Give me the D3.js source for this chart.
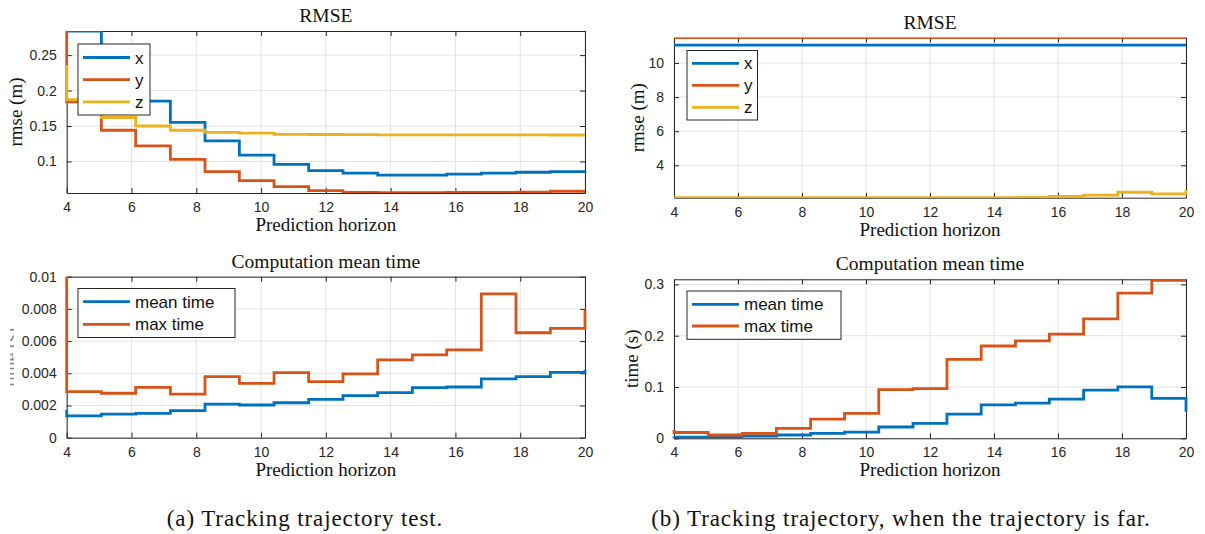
<!DOCTYPE html>
<html>
<head>
<meta charset="utf-8">
<script src="https://cdn.jsdelivr.net/npm/d3@7"></script>
<style>
  html, body { margin: 0; padding: 0; background: #fff; }
  svg { display: block; }
</style>
</head>
<body>
<svg id="fig" width="1205" height="534"></svg>
<script>
// Prediction horizon samples (the first sample holds the initial value)
const horizon = [4, 4, 5.07, 6.13, 7.2, 8.27, 9.33, 10.4, 11.47, 12.53, 13.6, 14.67, 15.73, 16.8, 17.87, 18.93, 20];
const xTicks = [4, 6, 8, 10, 12, 14, 16, 18, 20];

// (a) Tracking trajectory test: RMSE per axis
const rmseA_x = [0.284, 0.284, 0.200, 0.185, 0.155, 0.129, 0.109, 0.096, 0.087, 0.0834, 0.0806, 0.0806, 0.082, 0.0834, 0.0848, 0.0857, 0.086];
const rmseA_y = [0.284, 0.184, 0.144, 0.122, 0.103, 0.0857, 0.073, 0.0645, 0.0589, 0.0565, 0.056, 0.056, 0.0562, 0.0565, 0.0568, 0.058, 0.058];
const rmseA_z = [0.236, 0.187, 0.162, 0.150, 0.144, 0.141, 0.140, 0.1383, 0.138, 0.1378, 0.1376, 0.1375, 0.1375, 0.1374, 0.1374, 0.1373, 0.1373];
const rmseA_ticks = [0.1, 0.15, 0.2, 0.25];

// (a) Computation time
const timeA_mean = [0.00172, 0.00135, 0.00147, 0.00151, 0.00168, 0.00209, 0.00203, 0.00217, 0.00238, 0.00261, 0.0028, 0.00311, 0.00315, 0.00365, 0.00379, 0.00406, 0.0042];
const timeA_max = [0.0100, 0.00286, 0.00276, 0.00313, 0.00271, 0.00379, 0.00338, 0.00404, 0.00348, 0.00396, 0.00483, 0.00514, 0.00545, 0.00893, 0.00652, 0.00679, 0.00797];
const timeA_ticks = [0, 0.002, 0.004, 0.006, 0.008, 0.01];

// (b) Far trajectory: RMSE per axis
const rmseB_x = [11.05, 11.05, 11.05, 11.05, 11.05, 11.05, 11.05, 11.05, 11.05, 11.05, 11.05, 11.05, 11.05, 11.05, 11.05, 11.05, 11.05];
const rmseB_y = [11.48, 11.48, 11.48, 11.48, 11.48, 11.48, 11.48, 11.48, 11.48, 11.48, 11.48, 11.48, 11.48, 11.48, 11.48, 11.48, 11.48];
const rmseB_z = [2.10, 2.10, 2.10, 2.10, 2.10, 2.10, 2.10, 2.11, 2.11, 2.11, 2.11, 2.12, 2.18, 2.25, 2.42, 2.33, 2.55];
const rmseB_ticks = [4, 6, 8, 10];

// (b) Computation time
const timeB_mean = [0.0035, 0.002, 0.003, 0.0045, 0.0064, 0.0097, 0.0122, 0.022, 0.029, 0.047, 0.065, 0.0687, 0.0765, 0.094, 0.1004, 0.0778, 0.052];
const timeB_max = [0.016, 0.0113, 0.0064, 0.0097, 0.0195, 0.0375, 0.0486, 0.095, 0.097, 0.154, 0.18, 0.19, 0.203, 0.233, 0.283, 0.308, 0.308];
const timeB_ticks = [0, 0.1, 0.2, 0.3];

const C_BLUE = "#0072BD", C_ORANGE = "#D95319", C_YELLOW = "#EDB120";
const AXIS = "#262626", GRID = "#e3e3e3";
const SANS = "'Liberation Sans', Arial, sans-serif";
const SERIF = "'Liberation Serif', 'Times New Roman', serif";

const svg = d3.select("#fig");

function panel(cfg) {
  const { left, right, top, bottom } = cfg.box;
  const x = d3.scaleLinear().domain([4, 20]).range([left, right]);
  const y = d3.scaleLinear().domain(cfg.yDomain).range([bottom, top]);
  const g = svg.append("g");
  const id = "clip" + cfg.key;

  g.append("clipPath").attr("id", id).append("rect")
    .attr("x", left - 3).attr("y", top).attr("width", right - left + 6).attr("height", bottom - top);

  // grid
  g.append("g").selectAll("line").data(xTicks).join("line")
    .attr("x1", d => x(d)).attr("x2", d => x(d)).attr("y1", top).attr("y2", bottom)
    .attr("stroke", GRID).attr("stroke-width", 1);
  g.append("g").selectAll("line").data(cfg.yTicks).join("line")
    .attr("x1", left).attr("x2", right).attr("y1", d => y(d)).attr("y2", d => y(d))
    .attr("stroke", GRID).attr("stroke-width", 1);

  // axes with inward ticks on all four sides
  const tickLen = 5;
  const axB = d3.axisBottom(x).tickValues(xTicks).tickSizeInner(-tickLen).tickSizeOuter(0).tickPadding(9).tickFormat(d3.format("d"));
  const axT = d3.axisTop(x).tickValues(xTicks).tickSizeInner(-tickLen).tickSizeOuter(0).tickFormat("");
  const axL = d3.axisLeft(y).tickValues(cfg.yTicks).tickSizeInner(-tickLen).tickSizeOuter(0).tickPadding(10).tickFormat(d3.format("~g"));
  const axR = d3.axisRight(y).tickValues(cfg.yTicks).tickSizeInner(-tickLen).tickSizeOuter(0).tickFormat("");

  const style = sel => {
    sel.selectAll("path").attr("stroke", AXIS).attr("stroke-width", 1);
    sel.selectAll("line").attr("stroke", AXIS).attr("stroke-width", 1);
    sel.selectAll("text").attr("fill", AXIS).style("font-family", SANS).style("font-size", "14px");
  };
  g.append("g").attr("transform", `translate(0,${bottom})`).call(axB).call(style);
  g.append("g").attr("transform", `translate(0,${top})`).call(axT).call(style);
  g.append("g").attr("transform", `translate(${left},0)`).call(axL).call(style);
  g.append("g").attr("transform", `translate(${right},0)`).call(axR).call(style);

  // series as stairs
  const line = d3.line().curve(d3.curveStepAfter).x((d, i) => x(horizon[i])).y(d => y(d));
  const lines = g.append("g").attr("clip-path", `url(#${id})`);
  cfg.series.forEach(s => {
    lines.append("path").datum(s.values).attr("d", line)
      .attr("fill", "none").attr("stroke", s.color).attr("stroke-width", 2.8)
      .attr("stroke-linejoin", "miter").attr("stroke-linecap", "butt");
  });

  // titles
  g.append("text").attr("x", (left + right) / 2).attr("y", top - 9)
    .attr("text-anchor", "middle").style("font-family", SERIF).style("font-size", "19.5px")
    .attr("fill", "#111").text(cfg.title);
  g.append("text").attr("x", (left + right) / 2).attr("y", bottom + 38)
    .attr("text-anchor", "middle").style("font-family", SERIF).style("font-size", "19px")
    .attr("fill", "#111").text("Prediction horizon");
  if (cfg.yLabel) {
    const yl = g.append("g");
    if (cfg.yLabelClip) {
      // the label sits behind the tick labels; only a sliver of it shows
      g.append("clipPath").attr("id", id + "yl").append("rect")
        .attr("x", cfg.yLabelClip[0]).attr("y", top).attr("width", cfg.yLabelClip[1]).attr("height", bottom - top);
      yl.attr("clip-path", `url(#${id}yl)`);
    }
    yl.append("text")
      .attr("transform", `translate(${cfg.yLabelX},${(top + bottom) / 2}) rotate(-90)`)
      .attr("text-anchor", "middle").style("font-family", SERIF).style("font-size", "19px")
      .attr("fill", cfg.yLabelClip ? "#888" : "#111").text(cfg.yLabel);
  }

  // legend
  const L = cfg.legend;
  g.append("rect").attr("x", L.x).attr("y", L.y).attr("width", L.w).attr("height", L.h)
    .attr("fill", "#fff").attr("stroke", AXIS).attr("stroke-width", 1);
  cfg.series.forEach((s, i) => {
    const cy = L.y + L.first + i * L.gap;
    g.append("line").attr("x1", L.x + 5).attr("x2", L.x + 52).attr("y1", cy).attr("y2", cy)
      .attr("stroke", s.color).attr("stroke-width", 2.8);
    g.append("text").attr("x", L.x + 57).attr("y", cy).attr("dy", "0.36em")
      .style("font-family", SANS).style("font-size", "17px").attr("fill", "#111").text(s.name);
  });
}

panel({
  key: "a1", box: { left: 66.7, right: 585, top: 31, bottom: 193 },
  yDomain: [0.0555, 0.284], yTicks: rmseA_ticks, title: "RMSE", yLabel: "rmse (m)", yLabelX: 22,
  series: [
    { name: "x", color: C_BLUE, values: rmseA_x },
    { name: "y", color: C_ORANGE, values: rmseA_y },
    { name: "z", color: C_YELLOW, values: rmseA_z }
  ],
  legend: { x: 78, y: 44, w: 72, h: 71, first: 13.5, gap: 22.2 }
});

panel({
  key: "a2", box: { left: 66.7, right: 585, top: 276.7, bottom: 437.7 },
  yDomain: [0, 0.01], yTicks: timeA_ticks, title: "Computation mean time",
  yLabel: "time (s)", yLabelX: 17, yLabelClip: [10, 4],
  series: [
    { name: "mean time", color: C_BLUE, values: timeA_mean },
    { name: "max time", color: C_ORANGE, values: timeA_max }
  ],
  legend: { x: 78, y: 288.5, w: 157, h: 49, first: 13.2, gap: 22.6 }
});

panel({
  key: "b1", box: { left: 674, right: 1186, top: 37.7, bottom: 197.7 },
  yDomain: [2.1, 11.48], yTicks: rmseB_ticks, title: "RMSE", yLabel: "rmse (m)", yLabelX: 644,
  series: [
    { name: "x", color: C_BLUE, values: rmseB_x },
    { name: "y", color: C_ORANGE, values: rmseB_y },
    { name: "z", color: C_YELLOW, values: rmseB_z }
  ],
  legend: { x: 687, y: 50.5, w: 70.5, h: 69.5, first: 12.8, gap: 22 }
});

panel({
  key: "b2", box: { left: 674, right: 1186, top: 279.3, bottom: 438.3 },
  yDomain: [0, 0.31], yTicks: timeB_ticks, title: "Computation mean time", yLabel: "time (s)", yLabelX: 638,
  series: [
    { name: "mean time", color: C_BLUE, values: timeB_mean },
    { name: "max time", color: C_ORANGE, values: timeB_max }
  ],
  legend: { x: 687, y: 291, w: 154, h: 48.3, first: 13.3, gap: 21.7 }
});

// sub-figure captions
svg.append("text").attr("x", 305).attr("y", 526).attr("text-anchor", "middle")
  .style("font-family", SERIF).style("font-size", "23px").style("letter-spacing", "0.9px")
  .attr("fill", "#111").text("(a) Tracking trajectory test.");
svg.append("text").attr("x", 901).attr("y", 526).attr("text-anchor", "middle")
  .style("font-family", SERIF).style("font-size", "23px").style("letter-spacing", "0.9px")
  .attr("fill", "#111").text("(b) Tracking trajectory, when the trajectory is far.");
</script>
</body>
</html>
